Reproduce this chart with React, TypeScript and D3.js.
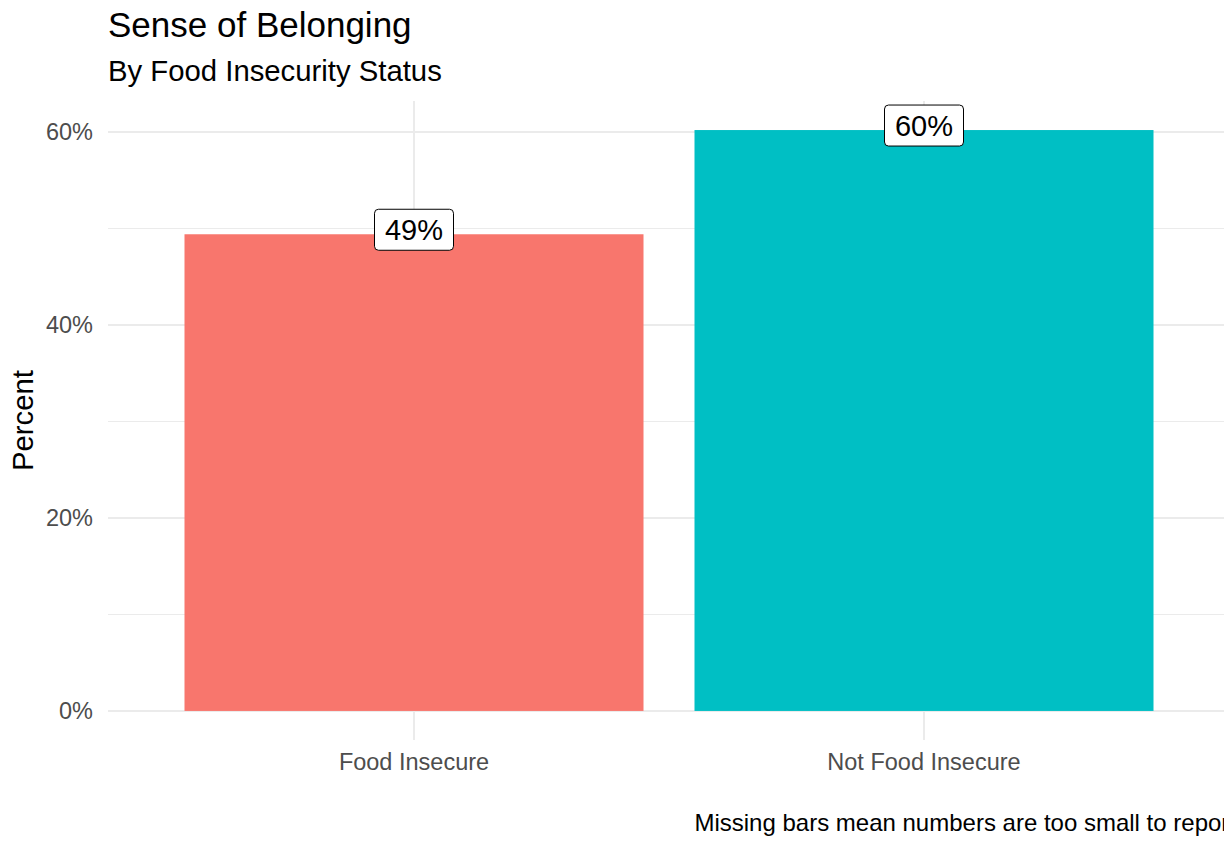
import React from "react";
import * as d3 from "d3";

const categories = ["Food Insecure", "Not Food Insecure"];
const values = [0.494, 0.602];
const labels = ["49%", "60%"];
const colors = ["#F8766D", "#00BFC4"];
const yTicks = [0, 0.2, 0.4, 0.6];
const yMinor = [0.1, 0.3, 0.5];

const W = 1224;
const H = 846;
const FONT = "'Liberation Sans', Arial, sans-serif";

export default function App() {
  const panelLeft = 108;
  const panelRight = 1230;
  const panelTop = 101;
  const panelBottom = 740;
  const maxV = d3.max(values) as number;
  const pad = maxV * 0.05;

  // ggplot discrete: expand 0.6 units each side, bar width 0.9
  const x = d3
    .scalePoint<string>()
    .domain(categories)
    .range([panelLeft, panelRight])
    .padding(0.6);
  const step = x.step();
  const center = (c: string) => x(c) as number;
  const barW = step * 0.9;

  const y = d3
    .scaleLinear()
    .domain([-pad, maxV + pad])
    .range([panelBottom, panelTop]);

  const fmt = d3.format(".0%");

  return (
    <svg
      width={W}
      height={H}
      style={{ position: "absolute", left: 0, top: 0, background: "#fff" }}
      fontFamily={FONT}
    >
      <rect x={0} y={0} width={W} height={H} fill="#fff" />
      {yMinor.map((t) => (
        <line
          key={"m" + t}
          x1={panelLeft}
          x2={panelRight}
          y1={y(t)}
          y2={y(t)}
          stroke="#EBEBEB"
          strokeWidth={1}
        />
      ))}
      {yTicks.map((t) => (
        <line
          key={"g" + t}
          x1={panelLeft}
          x2={panelRight}
          y1={y(t)}
          y2={y(t)}
          stroke="#EBEBEB"
          strokeWidth={2}
        />
      ))}
      {categories.map((c) => (
        <line
          key={"v" + c}
          x1={center(c)}
          x2={center(c)}
          y1={panelTop}
          y2={panelBottom}
          stroke="#EBEBEB"
          strokeWidth={2}
        />
      ))}
      {categories.map((c, i) => (
        <rect
          key={"b" + c}
          x={center(c) - barW / 2}
          width={barW}
          y={y(values[i])}
          height={y(0) - y(values[i])}
          fill={colors[i]}
        />
      ))}
      {categories.map((c, i) => {
        const cx = center(c);
        const cy = y(values[i]);
        const bw = 79;
        return (
          <g key={"l" + c}>
            <rect
              x={cx - bw / 2}
              y={cy - 25}
              width={bw}
              height={41}
              rx={4}
              ry={4}
              fill="#fff"
              stroke="#000"
              strokeWidth={1}
            />
            <text
              x={cx}
              y={cy + 6}
              textAnchor="middle"
              fontSize={29}
              fill="#000"
            >
              {labels[i]}
            </text>
          </g>
        );
      })}
      {yTicks.map((t) => (
        <text
          key={"yt" + t}
          x={93}
          y={y(t)}
          dy="0.35em"
          textAnchor="end"
          fontSize={23.5}
          fill="#4D4D4D"
        >
          {fmt(t)}
        </text>
      ))}
      {categories.map((c) => (
        <text
          key={"xt" + c}
          x={center(c)}
          y={770}
          textAnchor="middle"
          fontSize={23.5}
          fill="#4D4D4D"
        >
          {c}
        </text>
      ))}
      <text
        transform={`translate(33, ${(panelTop + panelBottom) / 2}) rotate(-90)`}
        textAnchor="middle"
        fontSize={29.3}
        fill="#000"
      >
        Percent
      </text>
      <text x={108} y={37} fontSize={35} fill="#000">
        Sense of Belonging
      </text>
      <text x={108} y={81} fontSize={29.3} fill="#000">
        By Food Insecurity Status
      </text>
      <text x={1236} y={831} textAnchor="end" fontSize={24} fill="#000">
        Missing bars mean numbers are too small to report
      </text>
    </svg>
  );
}
